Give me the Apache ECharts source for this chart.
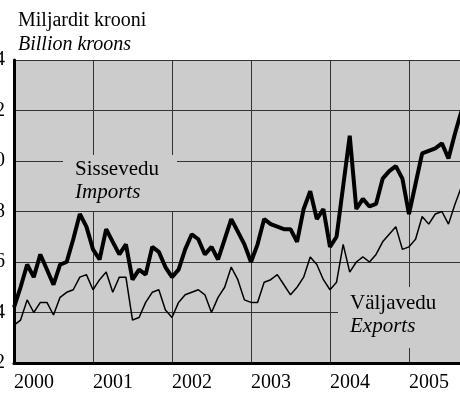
<!DOCTYPE html>
<html>
<head>
<meta charset="utf-8">
<script src="https://cdn.jsdelivr.net/npm/echarts@6/dist/echarts.min.js"></script>
<style>
  html, body { margin: 0; padding: 0; background: #fff; }
  #chart { width: 460px; height: 401px; }
</style>
</head>
<body>
<div id="chart"></div>
<script>
  // monthly values, Jan 2000 onwards (billion kroons)
  var imports = [
    4.2, 5.0, 5.9, 5.4, 6.3, 5.7, 5.1, 5.9, 6.0, 6.9, 7.9, 7.4,
    6.5, 6.1, 7.3, 6.8, 6.3, 6.7, 5.3, 5.7, 5.5, 6.6, 6.4, 5.8,
    5.4, 5.7, 6.5, 7.1, 6.9, 6.3, 6.6, 6.1, 6.9, 7.7, 7.2, 6.7,
    6.0, 6.7, 7.7, 7.5, 7.4, 7.3, 7.3, 6.8, 8.1, 8.8, 7.7, 8.1,
    6.6, 7.0, 9.0, 11.0, 8.1, 8.5, 8.2, 8.3, 9.3, 9.6, 9.8, 9.3,
    7.9, 9.1, 10.3, 10.4, 10.5, 10.7, 10.1, 11.1, 12.0
  ];
  var exports = [
    3.5, 3.7, 4.5, 4.0, 4.4, 4.4, 3.9, 4.6, 4.8, 4.9, 5.4, 5.5,
    4.9, 5.3, 5.6, 4.8, 5.4, 5.4, 3.7, 3.8, 4.4, 4.8, 4.9, 4.1,
    3.8, 4.4, 4.7, 4.8, 4.9, 4.7, 4.0, 4.6, 5.0, 5.8, 5.3, 4.5,
    4.4, 4.4, 5.2, 5.3, 5.5, 5.1, 4.7, 5.0, 5.4, 6.2, 5.9, 5.3,
    4.9, 5.2, 6.7, 5.6, 6.0, 6.2, 6.0, 6.3, 6.8, 7.1, 7.4, 6.5,
    6.6, 6.9, 7.8, 7.5, 7.9, 8.0, 7.5, 8.3, 9.0
  ];
  var startYear = 2000;
  var yTicks = { min: 2, max: 14, step: 2 };

  var serif = "'Liberation Serif', 'DejaVu Serif', serif";
  var gridColor = '#333';
  var plotBg = '#cccccc';

  function pairs(arr) {
    return arr.map(function (v, i) { return [i, v]; });
  }

  var chart = echarts.init(document.getElementById('chart'));
  chart.setOption({
    animation: false,
    backgroundColor: '#fff',
    grid: {
      left: 14,
      right: 0,
      top: 60,
      bottom: 38,
      containLabel: false,
      outerBoundsMode: 'none',
      show: true,
      backgroundColor: plotBg,
      borderWidth: 0
    },
    xAxis: {
      type: 'value',
      min: 0,
      max: 67.75,
      interval: 12,
      axisLine: { show: true, onZero: false, lineStyle: { color: '#000', width: 3 } },
      axisTick: { show: false },
      splitLine: { show: true, lineStyle: { color: gridColor, width: 1 } },
      axisLabel: {
        showMaxLabel: false,
        align: 'left',
        margin: 10,
        color: '#000',
        fontSize: 20,
        fontFamily: serif,
        formatter: function (v) { return String(startYear + v / 12); }
      }
    },
    yAxis: {
      type: 'value',
      min: yTicks.min,
      max: yTicks.max,
      interval: yTicks.step,
      axisLine: { show: true, lineStyle: { color: '#000', width: 3 } },
      axisTick: { show: false },
      splitLine: { show: true, lineStyle: { color: gridColor, width: 1 } },
      axisLabel: {
        margin: 9,
        color: '#000',
        fontSize: 20,
        fontFamily: serif
      }
    },
    graphic: [
      // gaps in the grid behind the series labels
      { type: 'rect', z: 1, shape: { x: 63, y: 155, width: 114, height: 56 }, style: { fill: plotBg } },
      { type: 'rect', z: 1, shape: { x: 338, y: 287, width: 122, height: 61 }, style: { fill: plotBg } },
      { type: 'text', z: 5, left: 18, top: 11, style: { text: 'Miljardit krooni', fontSize: 20, fontFamily: serif, fill: '#000' } },
      { type: 'text', z: 5, left: 18, top: 35, style: { text: 'Billion kroons', fontSize: 20, fontStyle: 'italic', fontFamily: serif, fill: '#000' } },
      { type: 'text', z: 5, left: 75, top: 159, style: { text: 'Sissevedu', fontSize: 21, fontFamily: serif, fill: '#000' } },
      { type: 'text', z: 5, left: 75, top: 182, style: { text: 'Imports', fontSize: 21, fontStyle: 'italic', fontFamily: serif, fill: '#000' } },
      { type: 'text', z: 5, left: 350, top: 293, style: { text: 'Väljavedu', fontSize: 21, fontFamily: serif, fill: '#000' } },
      { type: 'text', z: 5, left: 350, top: 316, style: { text: 'Exports', fontSize: 21, fontStyle: 'italic', fontFamily: serif, fill: '#000' } }
    ],
    series: [
      {
        name: 'Sissevedu',
        type: 'line',
        z: 3,
        showSymbol: false,
        data: pairs(imports),
        lineStyle: { color: '#000', width: 4 },
        itemStyle: { color: '#000' }
      },
      {
        name: 'Väljavedu',
        type: 'line',
        z: 3,
        showSymbol: false,
        data: pairs(exports),
        lineStyle: { color: '#000', width: 1.5 },
        itemStyle: { color: '#000' }
      }
    ]
  });
</script>
</body>
</html>
